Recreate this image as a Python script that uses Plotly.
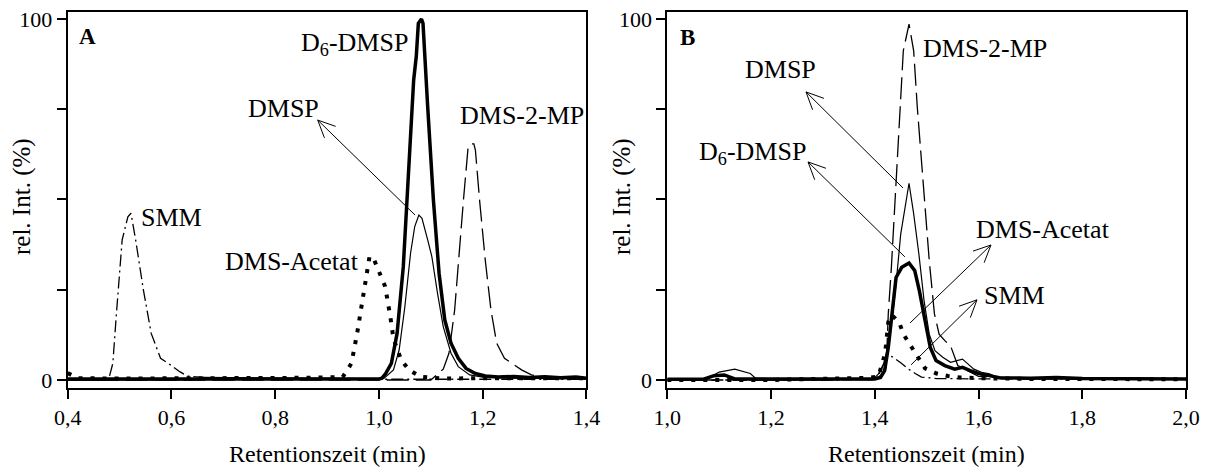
import math
import plotly.graph_objects as go

# ---------------- Panel A data ----------------
a_d6_x = [0.40, 0.60, 0.80, 0.95, 1.000, 1.006, 1.013, 1.024, 1.035, 1.047, 1.058, 1.067, 1.072, 1.076,
          1.082, 1.085, 1.094, 1.105, 1.116, 1.127, 1.139, 1.153, 1.168, 1.186, 1.205, 1.23, 1.26, 1.29,
          1.32, 1.35, 1.38, 1.40]
a_d6_y = [0.3, 0.3, 0.2, 0.2, 0.3, 0.5, 1.8, 4.6, 12.9, 31.4, 59.1, 83.1, 89.6, 98.8,
          100, 98.8, 75.7, 49.9, 29.5, 16.6, 10.2, 6.0, 3.2, 1.8, 1.1, 0.8, 1.0, 0.7,
          0.9, 0.6, 0.8, 0.5]

a_dmsp_x = [0.40, 0.645, 0.66, 0.80, 1.00, 1.010, 1.028, 1.039, 1.050, 1.061, 1.069, 1.077, 1.083, 1.094,
            1.102, 1.113, 1.124, 1.139, 1.153, 1.175, 1.20, 1.25, 1.30, 1.40]
a_dmsp_y = [0.0, 0.0, 0.7, 0.5, 0.4, 0.5, 2.8, 8.3, 20.3, 35.1, 42.5, 45.7, 44.8, 38.8,
            34.2, 24.0, 14.8, 7.4, 3.7, 1.4, 0.8, 0.5, 0.4, 0.3]

a_smm_x = [0.40, 0.47, 0.4795, 0.487, 0.494, 0.505, 0.516, 0.522, 0.531, 0.546, 0.561, 0.579, 0.594,
           0.616, 0.630, 0.70, 0.90, 1.10, 1.30, 1.40]
a_smm_y = [0.0, 0.0, 0.5, 4.6, 18.5, 38.8, 45.2, 46.2, 38.8, 24.9, 12.9, 6.0, 4.6,
           2.3, 1.1, 0.2, 0.2, 0.2, 0.2, 0.2]

a_acet_x = [0.40, 0.42, 0.50, 0.70, 0.85, 0.93, 0.947, 0.958, 0.969, 0.976, 0.982, 0.991, 1.002, 1.012,
            1.022, 1.028, 1.043, 1.058, 1.08, 1.12, 1.20, 1.30, 1.40]
a_acet_y = [1.9, 0.5, 0.4, 0.4, 0.6, 0.8, 4.6, 12.9, 22.0, 27.7, 34.3, 33.2, 29.5, 25.9,
            17.5, 11.5, 5.5, 2.8, 0.9, 0.4, 0.5, 0.5, 0.5]

a_mp_x = [0.40, 0.80, 1.10, 1.124, 1.135, 1.146, 1.153, 1.163, 1.172, 1.177, 1.183, 1.186, 1.194, 1.205,
          1.216, 1.227, 1.242, 1.256, 1.275, 1.294, 1.32, 1.40]
a_mp_y = [0.0, 0.0, 0.0, 3.0, 7.4, 19.4, 32.3, 49.9, 64.6, 65.4, 65.4, 63.7, 49.9, 33.2,
          19.4, 10.2, 6.0, 4.6, 2.8, 1.4, 0.8, 0.5]

# ---------------- Panel B data ----------------
b_mp_x = [1.0, 1.30, 1.40, 1.415, 1.422, 1.426, 1.432, 1.441, 1.449, 1.455, 1.466, 1.475, 1.482, 1.494,
          1.505, 1.515, 1.524, 1.535, 1.546, 1.56, 1.60, 1.70, 2.0]
b_mp_y = [0.0, 0.0, 0.3, 1.5, 3.5, 18.3, 31.2, 56.1, 77.4, 91.2, 98.6, 91.2, 75.5, 53.4,
          33.1, 18.3, 12.7, 10.9, 9.5, 4.0, 1.0, 0.4, 0.3]

b_dmsp_x = [1.0, 1.07, 1.085, 1.10, 1.13, 1.16, 1.17, 1.25, 1.396, 1.407, 1.417, 1.425, 1.434, 1.441,
            1.45, 1.466, 1.475, 1.485, 1.495, 1.505, 1.516, 1.531, 1.546, 1.557, 1.569, 1.58, 1.591,
            1.606, 1.621, 1.636, 1.70, 1.80, 2.0]
b_dmsp_y = [0.0, 0.0, 1.0, 2.2, 3.0, 1.8, 0.5, 0.2, 0.0, 1.7, 4.4, 9.0, 17.4, 26.6,
            40.4, 54.5, 46.0, 34.9, 22.0, 12.7, 8.1, 6.3, 4.9, 5.4, 5.8, 4.4, 3.0,
            2.1, 1.7, 0.7, 0.4, 0.3, 0.2]

b_d6_x = [1.0, 1.07, 1.09, 1.11, 1.13, 1.30, 1.40, 1.411, 1.419, 1.426, 1.434, 1.441, 1.452, 1.466, 1.477,
          1.486, 1.497, 1.507, 1.518, 1.535, 1.554, 1.569, 1.584, 1.602, 1.621, 1.64, 1.70, 1.75,
          1.80, 2.0]
b_d6_y = [0.2, 0.2, 1.2, 1.4, 0.3, 0.3, 0.3, 0.7, 2.6, 9.0, 19.2, 28.4, 31.2, 32.4, 30.3,
          24.7, 16.4, 9.0, 5.4, 4.0, 3.0, 3.5, 2.6, 1.7, 1.2, 0.6, 0.5, 0.7,
          0.4, 0.3]

b_acet_x = [1.0, 1.20, 1.35, 1.39, 1.407, 1.42, 1.426, 1.432, 1.44, 1.447, 1.456, 1.47, 1.482, 1.497,
            1.519, 1.541, 1.564, 1.60, 1.70, 2.0]
b_acet_y = [0.0, 0.0, 0.5, 0.6, 1.0, 7.4, 16.0, 18.0, 17.0, 15.9, 12.5, 9.2, 6.3, 3.2,
            1.8, 1.1, 0.7, 0.5, 0.3, 0.2]

b_smm_x = [1.0, 1.30, 1.40, 1.41, 1.42, 1.433, 1.45, 1.465, 1.478, 1.49, 1.52, 1.60, 2.0]
b_smm_y = [0.0, 0.0, 0.3, 2.0, 5.5, 6.5, 4.8, 3.0, 1.8, 0.8, 0.4, 0.3, 0.2]

# axis ticks
x_ticks_a = [0.4, 0.6, 0.8, 1.0, 1.2, 1.4]
x_ticks_b = [1.0, 1.2, 1.4, 1.6, 1.8, 2.0]
y_ticks = [0, 25, 50, 75, 100]
y_ticktext = ["0", "", "", "", "100"]

FONT = "Liberation Serif, Times New Roman, serif"

W, H = 1210, 470
MT, MB = 12, 82
DOM_A = [0.05595, 0.48463]
DOM_B = [0.55149, 0.98017]
YR = [-2.22, 101.94]

styles = {
    "d6": dict(color="black", width=3.5),
    "dmsp": dict(color="black", width=1.2),
    "mp": dict(color="black", width=1.3, dash="22px,7px"),
    "smm": dict(color="black", width=1.3, dash="12px,4px,2px,4px"),
    "acet": dict(color="black", width=4, dash="4px,8px"),
}

fig = go.Figure()

def add(x, y, key, xa, ya):
    fig.add_trace(go.Scatter(x=x, y=y, mode="lines", line=styles[key], xaxis=xa, yaxis=ya,
                             hoverinfo="skip"))

add(a_smm_x, a_smm_y, "smm", "x", "y")
add(a_acet_x, a_acet_y, "acet", "x", "y")
add(a_mp_x, a_mp_y, "mp", "x", "y")
add(a_dmsp_x, a_dmsp_y, "dmsp", "x", "y")
add(a_d6_x, a_d6_y, "d6", "x", "y")

add(b_smm_x, b_smm_y, "smm", "x2", "y2")
add(b_acet_x, b_acet_y, "acet", "x2", "y2")
add(b_mp_x, b_mp_y, "mp", "x2", "y2")
add(b_dmsp_x, b_dmsp_y, "dmsp", "x2", "y2")
add(b_d6_x, b_d6_y, "d6", "x2", "y2")

axis_common = dict(showline=True, linecolor="black", linewidth=2, mirror=True, ticks="outside",
                   ticklen=9, tickwidth=1.5, tickcolor="black", showgrid=False, zeroline=False,
                   automargin=False, tickfont=dict(family=FONT, size=22, color="black"))

fig.update_layout(
    width=W, height=H,
    margin=dict(l=0, r=0, t=MT, b=MB, autoexpand=False),
    paper_bgcolor="white", plot_bgcolor="white",
    showlegend=False,
    separators=",.",
    font=dict(family=FONT, size=22, color="black"),
    xaxis=dict(domain=DOM_A, range=[0.4, 1.4], tickvals=x_ticks_a, tickformat=".1f",
               anchor="y", **axis_common),
    yaxis=dict(domain=[0, 1], range=YR, tickvals=y_ticks, ticktext=y_ticktext, anchor="x",
               **axis_common),
    xaxis2=dict(domain=DOM_B, range=[1.0, 2.0], tickvals=x_ticks_b, tickformat=".1f",
                anchor="y2", **axis_common),
    yaxis2=dict(domain=[0, 1], range=YR, tickvals=y_ticks, ticktext=y_ticktext, anchor="x2",
                **axis_common),
)

LBL = 26
def label(text, x, y, xref, yref, size=LBL):
    fig.add_annotation(text=text, x=x, y=y, xref=xref, yref=yref, showarrow=False,
                       font=dict(family=FONT, size=size, color="black"),
                       xanchor="center", yanchor="middle")

# pixel scale of the data axes (for drawing open arrowheads in screen proportions)
PX_X = (DOM_A[1] - DOM_A[0]) * W / 1.0
PX_Y = (H - MT - MB) / (YR[1] - YR[0])

def arrow(hx, hy, tx, ty, xref, yref, head=19.0, ang=25.0):
    fig.add_shape(type="line", x0=tx, y0=ty, x1=hx, y1=hy, xref=xref, yref=yref,
                  line=dict(color="black", width=1))
    dx = (tx - hx) * PX_X
    dy = (ty - hy) * PX_Y
    n = math.hypot(dx, dy)
    ux, uy = dx / n, dy / n
    pts = []
    for s in (1, -1):
        a = math.radians(ang) * s
        rx = ux * math.cos(a) - uy * math.sin(a)
        ry = ux * math.sin(a) + uy * math.cos(a)
        pts.append((hx + rx * head / PX_X, hy + ry * head / PX_Y))
    path = f"M{pts[0][0]},{pts[0][1]} L{hx},{hy} L{pts[1][0]},{pts[1][1]}"
    fig.add_shape(type="path", path=path, xref=xref, yref=yref,
                  line=dict(color="black", width=1))

# Panel A labels
label("<b>A</b>", 0.438, 95.2, "x", "y", size=23)
label("D<sub>6</sub>-DMSP", 0.952, 93.0, "x", "y")
label("DMSP", 0.817, 75.3, "x", "y")
label("DMS-2-MP", 1.276, 73.4, "x", "y")
label("SMM", 0.601, 44.9, "x", "y")
label("DMS-Acetat", 0.833, 32.7, "x", "y")
arrow(0.882, 72.0, 1.0696, 45.7, "x", "y")

# Panel B labels
label("<b>B</b>", 1.039, 95.0, "x2", "y2", size=23)
label("DMS-2-MP", 1.6125, 91.7, "x2", "y2")
label("DMSP", 1.219, 85.9, "x2", "y2")
label("D<sub>6</sub>-DMSP", 1.165, 63.0, "x2", "y2")
label("DMS-Acetat", 1.724, 41.8, "x2", "y2")
label("SMM", 1.670, 23.3, "x2", "y2")
arrow(1.2674, 79.8, 1.4544, 53.2, "x2", "y2")
arrow(1.2713, 60.4, 1.458, 34.1, "x2", "y2")
arrow(1.624, 37.4, 1.468, 15.8, "x2", "y2")
arrow(1.597, 22.2, 1.470, 4.2, "x2", "y2")

# Axis titles
for dom in (DOM_A, DOM_B):
    fig.add_annotation(text="Retentionszeit (min)", x=(dom[0] + dom[1]) / 2, y=(H - MB - 454) / (H - MT - MB),
                       xref="paper", yref="paper", showarrow=False,
                       font=dict(family=FONT, size=24, color="black"),
                       xanchor="center", yanchor="middle")
for xc in (22, 622):
    fig.add_annotation(text="rel. Int. (%)", x=xc / W, y=(H - MB - 197) / (H - MT - MB),
                       xref="paper", yref="paper", showarrow=False, textangle=-90,
                       font=dict(family=FONT, size=25, color="black"),
                       xanchor="center", yanchor="middle")

fig.write_html("out.html", config={"displayModeBar": False},
               post_script="document.body.style.margin='0';document.body.style.overflow='hidden';")
